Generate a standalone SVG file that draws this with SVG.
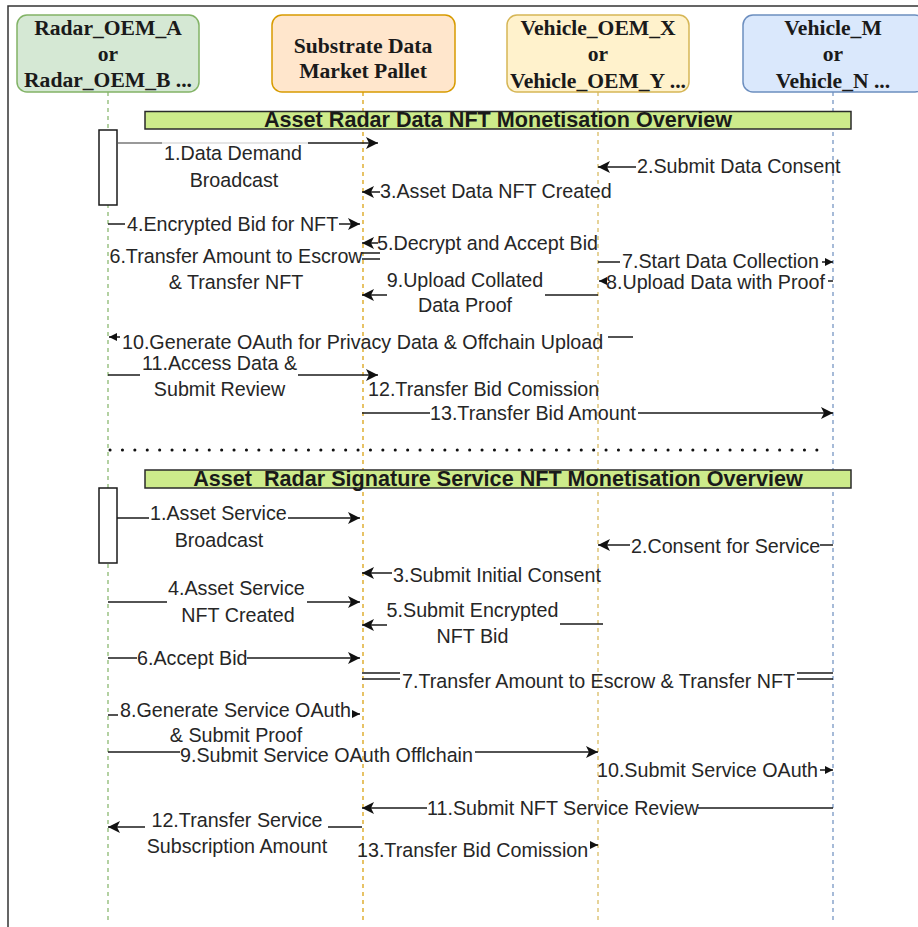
<svg xmlns="http://www.w3.org/2000/svg" width="918" height="927" viewBox="0 0 918 927">
<style>
.msg{font-family:"Liberation Sans",Arial,sans-serif;font-size:19.7px;fill:#262626}
.c{text-anchor:middle}
.hdr{font-family:"Liberation Serif","Times New Roman",serif;font-weight:bold;font-size:21.6px;fill:#1a1a1a;text-anchor:middle}
.ttl{font-family:"Liberation Sans",Arial,sans-serif;font-weight:bold;font-size:21.6px;fill:#1a1a1a;text-anchor:middle;white-space:pre}
.ln{stroke:#1a1a1a;stroke-width:1.5;fill:none}
.life{stroke-width:1.2;stroke-dasharray:4 4;fill:none}
.bar{fill:#cdeb8b;stroke:#2a2a2a;stroke-width:1.5}
.act{fill:#fff;stroke:#1a1a1a;stroke-width:1.5}
</style>
<defs>
<marker id="ab" viewBox="0 0 12 12" refX="12" refY="6" markerWidth="12" markerHeight="12" markerUnits="userSpaceOnUse" orient="auto"><path d="M0,0 L12,6 L0,12 L3,6 Z" fill="#111"/></marker>
<marker id="as" viewBox="0 0 8 8" refX="8" refY="4" markerWidth="8" markerHeight="8" markerUnits="userSpaceOnUse" orient="auto"><path d="M0,0 L8,4 L0,8 Z" fill="#111"/></marker>
</defs>
<rect width="918" height="927" fill="#fff"/>
<path d="M8,927 V6 H918" stroke="#333" stroke-width="1.5" fill="none"/>

<g id="radar">
<line class="life" x1="108" y1="92" x2="108" y2="922" stroke="#82b366"/>
<rect x="17" y="15" width="182" height="77" rx="10" fill="#d5e8d4" stroke="#82b366" stroke-width="1.5"/>
<text class="hdr" x="108" y="35">Radar_OEM_A</text>
<text class="hdr" x="108" y="61">or</text>
<text class="hdr" x="108" y="87">Radar_OEM_B ...</text>
</g>
<g id="substrate">
<line class="life" x1="363" y1="92" x2="363" y2="922" stroke="#d79b00"/>
<rect x="272" y="15" width="183" height="77" rx="10" fill="#ffe6cc" stroke="#d79b00" stroke-width="1.5"/>
<text class="hdr" x="363" y="53">Substrate Data</text>
<text class="hdr" x="363" y="78">Market Pallet</text>
</g>
<g id="vehicle_oem">
<line class="life" x1="598" y1="92" x2="598" y2="922" stroke="#d6b656"/>
<rect x="507" y="15" width="182" height="77" rx="10" fill="#fff2cc" stroke="#d6b656" stroke-width="1.5"/>
<text class="hdr" x="598" y="35">Vehicle_OEM_X</text>
<text class="hdr" x="598" y="61">or</text>
<text class="hdr" x="598" y="88">Vehicle_OEM_Y ...</text>
</g>
<g id="vehicle_m">
<line class="life" x1="833" y1="92" x2="833" y2="922" stroke="#6c8ebf"/>
<rect x="743" y="15" width="182" height="77" rx="10" fill="#dae8fc" stroke="#6c8ebf" stroke-width="1.5"/>
<text class="hdr" x="833" y="35">Vehicle_M</text>
<text class="hdr" x="833" y="61">or</text>
<text class="hdr" x="833" y="88">Vehicle_N ...</text>
</g>

<g id="section1">
<rect class="bar" x="145" y="111.5" width="706" height="17.5"/>
<text class="ttl" x="498" y="127">Asset Radar Data NFT Monetisation Overview</text>
<rect class="act" x="99" y="130" width="18" height="75"/>
</g>
<g id="separator">
<line x1="110" y1="450" x2="822" y2="450" stroke="#111" stroke-width="3" stroke-linecap="round" stroke-dasharray="0.1 12.3"/>
</g>
<g id="section2">
<rect class="bar" x="145" y="470" width="706" height="18"/>
<text class="ttl" x="498" y="485.5">Asset  Radar Signature Service NFT Monetisation Overview</text>
<rect class="act" x="99" y="488" width="18" height="75"/>
</g>

<g id="connectors">
<!-- section 1 -->
<line x1="118" y1="143" x2="162" y2="143" stroke="#777" stroke-width="1.5"/>
<line x1="162" y1="143" x2="308" y2="143" stroke="#ddd" stroke-width="1.5"/>
<line class="ln" x1="308" y1="143" x2="378" y2="143" marker-end="url(#ab)"/>
<text class="msg c" x="233" y="160">1.Data Demand</text>
<text class="msg c" x="234" y="187">Broadcast</text>

<line class="ln" x1="636" y1="167" x2="598" y2="167" marker-end="url(#ab)"/>
<text class="msg" x="637" y="172.5">2.Submit Data Consent</text>

<line class="ln" x1="380" y1="192" x2="362" y2="192" marker-end="url(#ab)"/>
<text class="msg" x="380" y="198">3.Asset Data NFT Created</text>

<line class="ln" x1="108" y1="224" x2="125" y2="224"/>
<text class="msg" x="127" y="231">4.Encrypted Bid for NFT</text>
<line class="ln" x1="339" y1="224" x2="360" y2="224" marker-end="url(#ab)"/>

<line class="ln" x1="378" y1="243" x2="362" y2="243" marker-end="url(#ab)"/>
<text class="msg" x="377" y="250">5.Decrypt and Accept Bid</text>

<line class="ln" x1="362" y1="253" x2="380" y2="253"/>
<line class="ln" x1="362" y1="259" x2="380" y2="259"/>
<text class="msg c" x="236" y="263">6.Transfer Amount to Escrow</text>
<text class="msg c" x="236" y="289">&amp; Transfer NFT</text>

<line class="ln" x1="598" y1="262" x2="620" y2="262"/>
<text class="msg" x="622" y="268">7.Start Data Collection</text>
<line class="ln" x1="822" y1="262" x2="833" y2="262" marker-end="url(#as)"/>

<line class="ln" x1="606" y1="281" x2="599" y2="281" marker-end="url(#as)"/>
<text class="msg" x="606" y="289">8.Upload Data with Proof</text>
<line class="ln" x1="828" y1="281" x2="833" y2="281"/>

<line class="ln" x1="387" y1="295" x2="362" y2="295" marker-end="url(#ab)"/>
<line class="ln" x1="545" y1="295" x2="598" y2="295"/>
<text class="msg c" x="465" y="287">9.Upload Collated</text>
<text class="msg c" x="465" y="312">Data Proof</text>

<line class="ln" x1="608" y1="337" x2="633" y2="337"/>
<line class="ln" x1="120" y1="337" x2="109" y2="337" marker-end="url(#as)"/>
<text class="msg" x="122" y="349">10.Generate OAuth for Privacy Data &amp; Offchain Upload</text>

<line class="ln" x1="108" y1="375" x2="140" y2="375"/>
<line class="ln" x1="298" y1="375" x2="378" y2="375" marker-end="url(#ab)"/>
<text class="msg" x="142" y="370">11.Access Data &amp;</text>
<text class="msg c" x="219.5" y="396">Submit Review</text>

<text class="msg" x="368" y="396">12.Transfer Bid Comission</text>

<line class="ln" x1="362" y1="413" x2="430" y2="413"/>
<text class="msg" x="430" y="420">13.Transfer Bid Amount</text>
<line class="ln" x1="638" y1="413" x2="833" y2="413" marker-end="url(#ab)"/>

<!-- section 2 -->
<line class="ln" x1="117" y1="518" x2="149" y2="518"/>
<text class="msg" x="150" y="520">1.Asset Service</text>
<text class="msg c" x="219" y="547">Broadcast</text>
<line class="ln" x1="288" y1="518" x2="360" y2="518" marker-end="url(#ab)"/>

<line class="ln" x1="630" y1="545" x2="598" y2="545" marker-end="url(#ab)"/>
<text class="msg" x="631" y="553">2.Consent for Service</text>
<line class="ln" x1="820" y1="545" x2="833" y2="545"/>

<line class="ln" x1="392" y1="573" x2="362" y2="573" marker-end="url(#ab)"/>
<text class="msg" x="393" y="581.5">3.Submit Initial Consent</text>

<line class="ln" x1="108" y1="602" x2="167" y2="602"/>
<text class="msg" x="168" y="595">4.Asset Service</text>
<text class="msg c" x="238" y="622">NFT Created</text>
<line class="ln" x1="307" y1="602" x2="360" y2="602" marker-end="url(#ab)"/>

<line class="ln" x1="387" y1="625" x2="362" y2="625" marker-end="url(#ab)"/>
<line class="ln" x1="560" y1="624" x2="603" y2="624"/>
<text class="msg c" x="472.5" y="617">5.Submit Encrypted</text>
<text class="msg c" x="472.5" y="643">NFT Bid</text>

<line class="ln" x1="108" y1="658" x2="137" y2="658"/>
<text class="msg" x="137" y="665">6.Accept Bid</text>
<line class="ln" x1="247" y1="658" x2="360" y2="658" marker-end="url(#ab)"/>

<line class="ln" x1="362" y1="673" x2="400" y2="673"/>
<line class="ln" x1="362" y1="679" x2="400" y2="679"/>
<line class="ln" x1="797" y1="673" x2="833" y2="673"/>
<line class="ln" x1="797" y1="679" x2="833" y2="679"/>
<text class="msg" x="402" y="688">7.Transfer Amount to Escrow &amp; Transfer NFT</text>

<line class="ln" x1="108" y1="715" x2="118" y2="715"/>
<text class="msg" x="120" y="717">8.Generate Service OAuth</text>
<text class="msg c" x="236" y="742">&amp; Submit Proof</text>
<line class="ln" x1="353" y1="714" x2="360" y2="714" marker-end="url(#as)"/>

<line class="ln" x1="108" y1="752" x2="180" y2="752"/>
<text class="msg" x="180" y="762">9.Submit Service OAuth Offlchain</text>
<line class="ln" x1="475" y1="752" x2="598" y2="752" marker-end="url(#ab)"/>

<text class="msg" x="597" y="777">10.Submit Service OAuth</text>
<line class="ln" x1="820" y1="770" x2="833" y2="770" marker-end="url(#as)"/>

<line class="ln" x1="427" y1="808" x2="362" y2="808" marker-end="url(#ab)"/>
<text class="msg" x="427" y="815">11.Submit NFT Service Review</text>
<line class="ln" x1="698" y1="808" x2="833" y2="808"/>

<line class="ln" x1="145" y1="827" x2="108" y2="827" marker-end="url(#ab)"/>
<line class="ln" x1="328" y1="827" x2="362" y2="827"/>
<text class="msg c" x="237" y="827">12.Transfer Service</text>
<text class="msg c" x="237" y="853">Subscription Amount</text>

<text class="msg" x="357" y="857">13.Transfer Bid Comission</text>
<line class="ln" x1="591" y1="845" x2="598" y2="845" marker-end="url(#as)"/>
</g>
</svg>
